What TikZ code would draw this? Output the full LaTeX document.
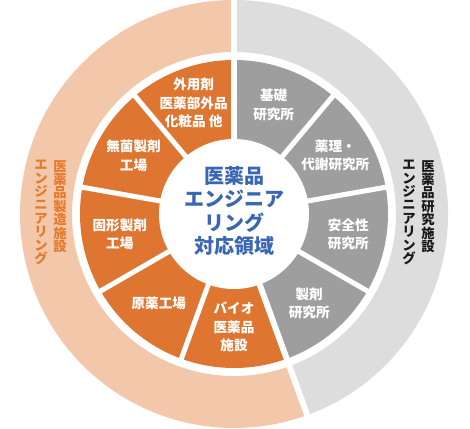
\documentclass[tikz,border=0pt]{standalone}
\usepackage{fontspec}
\setmainfont{Noto Sans CJK JP}

\definecolor{plantorange}{HTML}{DE7632}
\definecolor{plantring}{HTML}{F3C8AA}
\definecolor{labgray}{HTML}{9E9E9E}
\definecolor{labring}{HTML}{DDDDDD}
\definecolor{coreblue}{HTML}{3A66B4}
\definecolor{ringorange}{HTML}{E57A2C}

\tikzset{
  sectortext/.style={text=white, align=center, inner sep=0pt,
    font=\fontsize{13.6}{18.5}\selectfont\bfseries},
  coretext/.style={text=coreblue, align=center, inner sep=0pt,
    font=\fontsize{20}{23.5}\selectfont\bfseries},
  ringtext/.style={anchor=north, align=center, inner sep=0pt,
    font=\fontsize{13.3}{13.4}\selectfont\bfseries}
}

\begin{document}
\begin{tikzpicture}[x=1pt,y=1pt]
  \useasboundingbox[fill=white] (0,0) rectangle (470,428);

  \begin{scope}[shift={(234,214)}]
    % outer rings
    \fill[plantring] (90:214) arc[start angle=90, end angle=290, radius=214]
      -- (290:162) arc[start angle=290, end angle=90, radius=162] -- cycle;
    \fill[labring] (-70:214) arc[start angle=-70, end angle=90, radius=214]
      -- (90:162) arc[start angle=90, end angle=-70, radius=162] -- cycle;

    % inner sectors
    \foreach \a in {90,130,170,210,250}
      \fill[plantorange] (0,0) -- (\a:154) arc[start angle=\a, delta angle=40, radius=154] -- cycle;
    \foreach \a in {-70,-30,10,50}
      \fill[labgray] (0,0) -- (\a:154) arc[start angle=\a, delta angle=40, radius=154] -- cycle;

    % gaps
    \foreach \a in {130,170,210,250,-30,10,50}
      \draw[white, line width=5pt] (0,0) -- (\a:157);
    \draw[white, line width=6pt] (0,0) -- (90:217);
    \draw[white, line width=6pt] (0,0) -- (290:217);
    \fill[white] (0,0) circle (75);

    \node[coretext] (core) at (0,3) {医薬品\\エンジニア\\リング\\対応領域};

    \node[sectortext] (gaiyo) at (110:118) {外用剤\\医薬部外品\\化粧品 他};
    \node[sectortext] (mukin) at (150:116) {無菌製剤\\工場};
    \node[sectortext] (kokei) at (190:116) {固形製剤\\工場};
    \node[sectortext] (genyaku) at (230:117) {原薬工場};
    \node[sectortext] (bio) at (270:113) {バイオ\\医薬品\\施設};
    \node[sectortext] (seizai) at (310:117) {製剤\\研究所};
    \node[sectortext] (anzen) at (350:116) {安全性\\研究所};
    \node[sectortext] (yakuri) at (30:117) {薬理・\\代謝研究所};
    \node[sectortext] (kiso) at (70:116) {基礎\\研究所};

    % vertical ring labels
    \node[ringtext, text=ringorange] (plantA) at (-174,54) {医\\薬\\品\\製\\造\\施\\設};
    \node[ringtext, text=ringorange] (plantB) at (-193,54) {エ\\ン\\ジ\\ニ\\ア\\リ\\ン\\グ};
    \node[ringtext, text=black!90] (labA) at (194,54) {医\\薬\\品\\研\\究\\施\\設};
    \node[ringtext, text=black!90] (labB) at (175,54) {エ\\ン\\ジ\\ニ\\ア\\リ\\ン\\グ};
  \end{scope}
\end{tikzpicture}
\end{document}
